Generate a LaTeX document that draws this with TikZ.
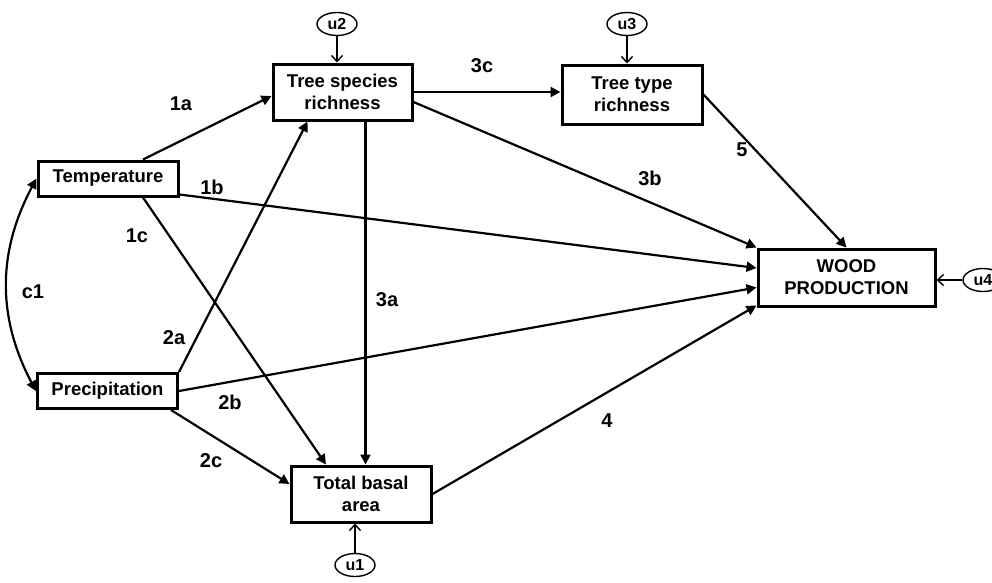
\documentclass[tikz,border=0pt]{standalone}
\usepackage{fontspec}
\setmainfont{Liberation Sans}
\usetikzlibrary{arrows.meta,shapes.geometric}
\tikzset{
  var/.style={draw, line width=3pt, inner sep=0pt, align=center,
              font=\fontsize{18.5}{22}\selectfont\bfseries},
  err/.style={draw, ellipse, line width=1.4pt, minimum width=40pt,
              minimum height=23pt, inner sep=0pt,
              font=\fontsize{16}{16}\selectfont\bfseries},
  arr/.style={line width=2.2pt, -{Triangle[length=10pt,width=10pt]}},
  errarr/.style={line width=1.4pt, -{Straight Barb[length=6pt,width=11pt]}},
  lab/.style={inner sep=0pt, font=\fontsize{20}{22}\selectfont\bfseries}
}
\begin{document}
\begin{tikzpicture}[x=1pt,y=-1pt]
    \useasboundingbox (0,0) rectangle (992,582);
    % variables
    \node[var, minimum width=140pt, minimum height=35pt] (temp) at (108,178.5) {Temperature};
    \node[var, minimum width=140pt, minimum height=35pt] (prec) at (107.5,391) {Precipitation};
    \node[var, minimum width=139pt, minimum height=56pt] (tsr) at (342.5,92) {Tree species\\richness};
    \node[var, minimum width=140pt, minimum height=59pt] (ttr) at (632,94.5) {Tree type\\richness};
    \node[var, minimum width=177pt, minimum height=57pt] (wood) at (846.5,277.5) {WOOD\\PRODUCTION};
    \node[var, minimum width=140pt, minimum height=56pt] (tba) at (361,494) {Total basal\\area};
    % error terms
    \node[err] (u1) at (355,565) {u1};
    \node[err] (u2) at (337,24) {u2};
    \node[err] (u3) at (627,24) {u3};
    \node[err] (u4) at (983,280) {u4};
    \draw[errarr] (u1.north) -- (u1.north |- tba.south);
    \draw[errarr] (u2.south) -- (u2.south |- tsr.north);
    \draw[errarr] (u3.south) -- (u3.south |- ttr.north);
    \draw[errarr] (u4.west) -- (u4.west -| wood.east);
    % paths
    \draw[arr] ([xshift=35pt]temp.north) -- ([yshift=-4pt]tsr.west);
    \draw[arr] ([yshift=3pt]temp.south east) -- ([yshift=9.5pt]wood.west);
    \draw[arr] ([xshift=35pt]temp.south) -- ([xshift=-35pt]tba.north);
    \draw[arr, {Triangle[length=10pt,width=10pt]}-{Triangle[length=10pt,width=10pt]}]
        (temp.west) to[bend right=28] (prec.west);
    \draw[arr] (prec.north east) -- ([xshift=-35pt]tsr.south);
    \draw[arr] (prec.east) -- ([yshift=-10pt]wood.west);
    \draw[arr] ([xshift=-8pt]prec.south east) -- ([yshift=10pt]tba.west);
    \coordinate (s3a) at ([xshift=23pt]tsr.south);
    \draw[arr] (s3a) -- (s3a |- tba.north);
    \draw[arr] ([yshift=-10pt]tsr.east) -- (wood.north west);
    \draw[arr] (tsr.east) -- (tsr.east -| ttr.west);
    \draw[arr] (ttr.east) -- (wood.north);
    \draw[arr] (tba.east) -- ([yshift=2pt]wood.south west);
    % path labels
    \node[lab] (l1a) at (181,104) {1a};
    \node[lab] (l1b) at (212,187) {1b};
    \node[lab] (l1c) at (137,236) {1c};
    \node[lab] (lc1) at (33,292) {c1};
    \node[lab] (l2a) at (174,338) {2a};
    \node[lab] (l2b) at (230,402) {2b};
    \node[lab] (l2c) at (211,461) {2c};
    \node[lab] (l3a) at (387,300) {3a};
    \node[lab] (l3b) at (650,178) {3b};
    \node[lab] (l3c) at (482,66) {3c};
    \node[lab] (l4) at (607,421) {4};
    \node[lab] (l5) at (742,150) {5};
\end{tikzpicture}
\end{document}
